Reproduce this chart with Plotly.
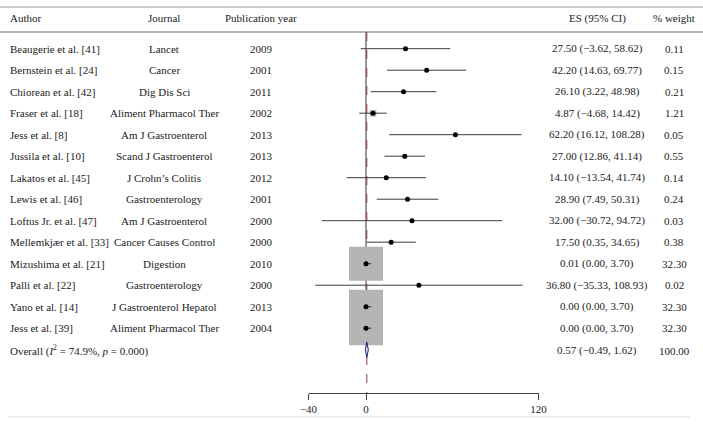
import plotly.graph_objects as go

authors = ["Beaugerie et al. [41]", "Bernstein et al. [24]", "Chiorean et al. [42]", "Fraser et al. [18]",
           "Jess et al. [8]", "Jussila et al. [10]", "Lakatos et al. [45]", "Lewis et al. [46]",
           "Loftus Jr. et al. [47]", "Mellemkjær et al. [33]", "Mizushima et al. [21]", "Palli et al. [22]",
           "Yano et al. [14]", "Jess et al. [39]"]
journals = ["Lancet", "Cancer", "Dig Dis Sci", "Aliment Pharmacol Ther", "Am J Gastroenterol",
            "Scand J Gastroenterol", "J Crohn’s Colitis", "Gastroenterology", "Am J Gastroenterol",
            "Cancer Causes Control", "Digestion", "Gastroenterology", "J Gastroenterol Hepatol",
            "Aliment Pharmacol Ther"]
years = [2009, 2001, 2011, 2002, 2013, 2013, 2012, 2001, 2000, 2000, 2010, 2000, 2013, 2004]
es = [27.50, 42.20, 26.10, 4.87, 62.20, 27.00, 14.10, 28.90, 32.00, 17.50, 0.01, 36.80, 0.00, 0.00]
lo = [-3.62, 14.63, 3.22, -4.68, 16.12, 12.86, -13.54, 7.49, -30.72, 0.35, 0.00, -35.33, 0.00, 0.00]
hi = [58.62, 69.77, 48.98, 14.42, 108.28, 41.14, 41.74, 50.31, 94.72, 34.65, 3.70, 108.93, 3.70, 3.70]
weights = [0.11, 0.15, 0.21, 1.21, 0.05, 0.55, 0.14, 0.24, 0.03, 0.38, 32.30, 0.02, 32.30, 32.30]
overall_es, overall_lo, overall_hi, overall_w = 0.57, -0.49, 1.62, 100.00
overall_label = "Overall (<i>I</i><sup>2</sup> = 74.9%, <i>p</i> = 0.000)"
headers = ["Author", "Journal", "Publication year", "ES (95% CI)", "% weight"]
x_ticks = [-40, 0, 120]

W, H = 703, 425
FONT = "Liberation Serif"
FS = 11
TXT = "#222222"

n = len(authors)
rows = list(range(n))
overall_row = n

def px_x(p):
    return p / W

def px_y(p):
    return 1 - p / H

row0_px, row_step = 48.7, 21.5
top_px, bot_px = 32, 393
y_top = (top_px - row0_px) / row_step
y_bot = (bot_px - row0_px) / row_step

fig = go.Figure()

# null line at 0 and dashed line at the overall estimate
fig.add_trace(go.Scatter(x=[0, 0], y=[y_top, n - 0.5], mode="lines",
                         line=dict(color="#333333", width=1), hoverinfo="skip", showlegend=False))
fig.add_trace(go.Scatter(x=[overall_es, overall_es], y=[y_top, y_bot], mode="lines",
                         line=dict(color="#9a3c3c", width=1, dash="dash"), hoverinfo="skip", showlegend=False))

# weight squares (area proportional to weight)
sizes = [34 * (w / 32.3) ** 0.5 for w in weights]
fig.add_trace(go.Scatter(x=es, y=rows, mode="markers",
                         marker=dict(symbol="square", size=sizes, color="#b5b5b5", opacity=1,
                                     line=dict(width=0)),
                         hoverinfo="skip", showlegend=False))

# confidence interval lines
cx, cy = [], []
for i in rows:
    cx += [lo[i], hi[i], None]
    cy += [i, i, None]
fig.add_trace(go.Scatter(x=cx, y=cy, mode="lines", line=dict(color="#3a3a3a", width=1),
                         hoverinfo="skip", showlegend=False))

# point estimates
fig.add_trace(go.Scatter(x=es, y=rows, mode="markers",
                         marker=dict(symbol="circle", size=5, color="black", opacity=1),
                         hoverinfo="skip", showlegend=False))

# overall diamond
h = 0.36
fig.add_trace(go.Scatter(x=[overall_lo, overall_es, overall_hi, overall_es, overall_lo],
                         y=[overall_row, overall_row - h, overall_row, overall_row + h, overall_row],
                         mode="lines", fill="toself", fillcolor="rgba(200,200,230,0.5)",
                         line=dict(color="#1f1f7a", width=1), hoverinfo="skip", showlegend=False))

annotations = []
col_x = [8, 164, 261, 597, 674]
col_anchor = ["left", "center", "center", "center", "center"]
for j, htxt in enumerate(headers):
    annotations.append(dict(x=px_x(col_x[j]), y=px_y(18), xref="paper", yref="paper", text=htxt,
                            xanchor=col_anchor[j], yanchor="middle", showarrow=False,
                            font=dict(family=FONT, size=FS, color=TXT)))

def fmt(v):
    return f"{v:.2f}".replace("-", "−")

for i in rows:
    vals = [authors[i], journals[i], str(years[i]),
            f"{fmt(es[i])} ({fmt(lo[i])}, {fmt(hi[i])})", fmt(weights[i])]
    for j, t in enumerate(vals):
        annotations.append(dict(x=px_x(col_x[j]), y=i, xref="paper", yref="y", text=t,
                                xanchor=col_anchor[j], yanchor="middle", showarrow=False,
                                font=dict(family=FONT, size=FS, color=TXT)))

ov_vals = [overall_label, f"{fmt(overall_es)} ({fmt(overall_lo)}, {fmt(overall_hi)})", fmt(overall_w)]
for t, j in zip(ov_vals, [0, 3, 4]):
    annotations.append(dict(x=px_x(col_x[j]), y=overall_row + 0.05, xref="paper", yref="y", text=t,
                            xanchor=col_anchor[j], yanchor="middle", showarrow=False,
                            font=dict(family=FONT, size=FS, color=TXT)))

shapes = [
    dict(type="line", xref="paper", yref="paper", x0=0, x1=1, y0=px_y(7), y1=px_y(7),
         line=dict(color="#9a9a9a", width=1)),
    dict(type="line", xref="paper", yref="paper", x0=0, x1=1, y0=px_y(32), y1=px_y(32),
         line=dict(color="#6a6a6a", width=1)),
    dict(type="line", xref="paper", yref="paper", x0=px_x(8), x1=px_x(690), y0=px_y(417), y1=px_y(417),
         line=dict(color="#dddddd", width=1)),
]

fig.update_layout(
    width=W, height=H, autosize=False,
    margin=dict(l=0, r=0, t=0, b=0, pad=0, autoexpand=False),
    paper_bgcolor="white", plot_bgcolor="white",
    showlegend=False,
    xaxis=dict(domain=[px_x(308.5), px_x(538.5)], range=[-40, 120], showgrid=False, zeroline=False,
               showline=True, linecolor="#444444", linewidth=1, ticks="outside", ticklen=6,
               tickcolor="#444444", tickvals=x_ticks, ticktext=[str(v).replace("-", "−") for v in x_ticks],
               tickfont=dict(family=FONT, size=FS, color=TXT), fixedrange=True, automargin=False),
    yaxis=dict(domain=[px_y(bot_px), px_y(top_px)], range=[y_bot, y_top], visible=False, fixedrange=True,
               automargin=False),
    annotations=annotations,
    shapes=shapes,
)

fig.write_html("out.html", config={"displayModeBar": False},
               post_script="document.body.style.margin='0px';")
